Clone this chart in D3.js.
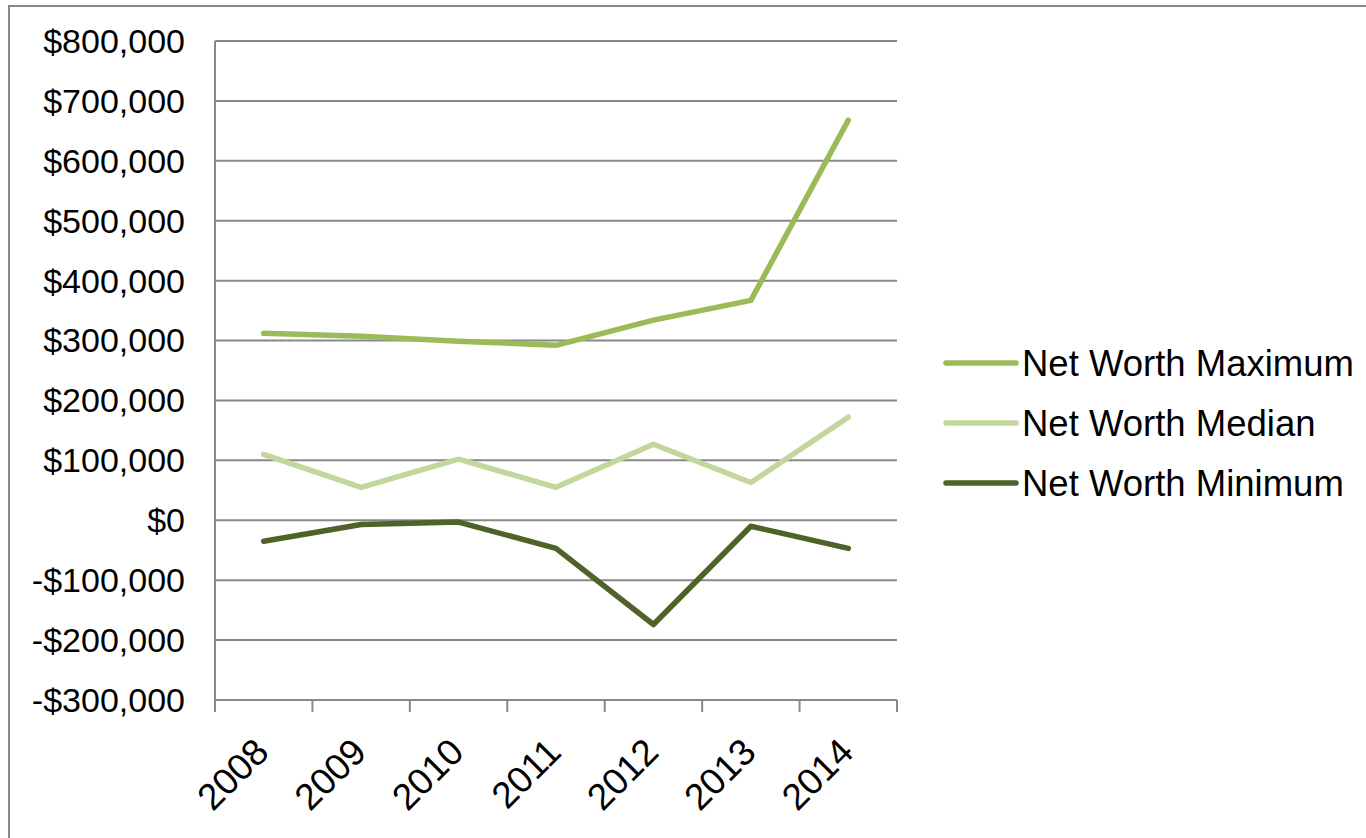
<!DOCTYPE html>
<html>
<head>
<meta charset="utf-8">
<script src="https://cdn.jsdelivr.net/npm/d3@7"></script>
<style>
  body { margin: 0; background: #fff; }
  svg { display: block; font-family: "Liberation Sans", Arial, sans-serif; }
</style>
</head>
<body>
<svg class="chart"></svg>
<script>
// values
const years = ['2008', '2009', '2010', '2011', '2012', '2013', '2014']
const maxWorth = [312000, 307000, 299000, 292000, 334000, 367000, 668000]
const medianWorth = [110000, 55000, 102000, 55000, 127000, 63000, 172000]
const minWorth = [-35000, -7000, -3000, -47000, -174000, -10000, -47000]
const yTicks = [800000, 700000, 600000, 500000, 400000, 300000, 200000, 100000, 0, -100000, -200000, -300000]

const seriesNames = ['Net Worth Maximum', 'Net Worth Median', 'Net Worth Minimum']
const seriesColors = ['#9bbb59', '#c3d69b', '#4f6228']

const series = [maxWorth, medianWorth, minWorth].map((values, i) => ({
    name: seriesNames[i],
    color: seriesColors[i],
    values: values
}))

const width = 1366
const height = 838
const plot = { left: 215, right: 897, top: 41, bottom: 700 }

const svg = d3.select('.chart')
    .attr('width', width)
    .attr('height', height)

// outer frame (only top and left edges are in view)
svg.append('rect')
    .attr('x', 9)
    .attr('y', 6)
    .attr('width', 1500)
    .attr('height', 1000)
    .attr('fill', 'none')
    .attr('stroke', '#888')
    .attr('stroke-width', 2)

const x = d3.scaleBand()
    .domain(years)
    .range([plot.left, plot.right])

const y = d3.scaleLinear()
    .domain([-300000, 800000])
    .range([plot.bottom, plot.top])

const fmt = v => (v < 0 ? '-$' : '$') + d3.format(',')(Math.abs(v))

// gridlines
svg.append('g')
    .selectAll('line')
    .data(yTicks)
    .enter()
    .append('line')
    .attr('x1', plot.left)
    .attr('x2', plot.right)
    .attr('y1', d => y(d))
    .attr('y2', d => y(d))
    .attr('stroke', '#888')
    .attr('stroke-width', 2)

// y labels
svg.append('g')
    .selectAll('text')
    .data(yTicks)
    .enter()
    .append('text')
    .attr('x', plot.left - 30)
    .attr('y', d => y(d))
    .attr('dy', '0.35em')
    .attr('text-anchor', 'end')
    .attr('font-size', 34)
    .attr('fill', '#000')
    .text(fmt)

// y axis line
svg.append('line')
    .attr('x1', plot.left)
    .attr('x2', plot.left)
    .attr('y1', plot.top)
    .attr('y2', plot.bottom + 12)
    .attr('stroke', '#888')
    .attr('stroke-width', 2)

// x axis ticks at band edges
const edges = years.map(d => x(d)).concat([plot.right])
svg.append('g')
    .selectAll('line')
    .data(edges)
    .enter()
    .append('line')
    .attr('x1', d => d)
    .attr('x2', d => d)
    .attr('y1', plot.bottom)
    .attr('y2', plot.bottom + 12)
    .attr('stroke', '#888')
    .attr('stroke-width', 2)

// x labels, rotated
svg.append('g')
    .selectAll('text')
    .data(years)
    .enter()
    .append('text')
    .attr('transform', d => `translate(${x(d) + x.bandwidth() / 2 - 2},${plot.bottom + 45}) rotate(-45)`)
    .attr('dy', '0.35em')
    .attr('text-anchor', 'end')
    .attr('font-size', 37)
    .attr('fill', '#000')
    .text(d => d)

// series lines
const line = d3.line()
    .x((d, i) => x(years[i]) + x.bandwidth() / 2)
    .y(d => y(d))

svg.append('g')
    .selectAll('path')
    .data(series)
    .enter()
    .append('path')
    .attr('d', d => line(d.values))
    .attr('fill', 'none')
    .attr('stroke', d => d.color)
    .attr('stroke-width', 5.5)
    .attr('stroke-linecap', 'round')
    .attr('stroke-linejoin', 'round')

// legend
const legend = svg.append('g')
    .selectAll('g')
    .data(series)
    .enter()
    .append('g')
    .attr('transform', (d, i) => `translate(946,${363 + i * 60})`)

legend.append('line')
    .attr('x1', 0)
    .attr('x2', 70)
    .attr('stroke', d => d.color)
    .attr('stroke-width', 5.5)
    .attr('stroke-linecap', 'round')

legend.append('text')
    .attr('x', 76)
    .attr('dy', '0.35em')
    .attr('font-size', 36.5)
    .attr('fill', '#000')
    .text(d => d.name)
</script>
</body>
</html>
